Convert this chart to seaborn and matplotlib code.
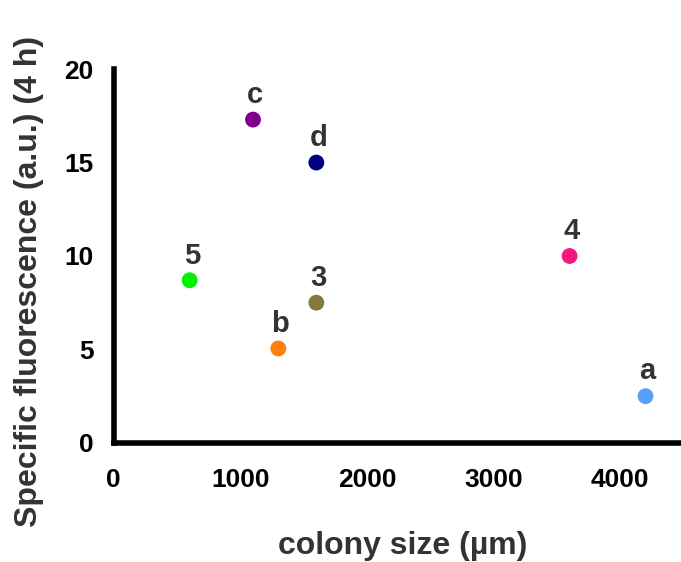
import matplotlib
matplotlib.use("Agg")
import matplotlib.pyplot as plt
import seaborn as sns
import pandas as pd

labels = ["5", "c", "b", "3", "d", "4", "a"]
colony_size = [600, 1100, 1300, 1600, 1600, 3600, 4200]
fluorescence = [8.7, 17.3, 5.05, 7.5, 15.0, 10.0, 2.5]
colors = ["#00F000", "#800090", "#FF7F0E", "#857A3C", "#000080", "#F5167E", "#55A0FA"]
x_ticks = [0, 1000, 2000, 3000, 4000]
y_ticks = [0, 5, 10, 15, 20]

df = pd.DataFrame({"label": labels, "x": colony_size, "y": fluorescence})

sns.set_style("white")
plt.rcParams["font.family"] = ["Liberation Sans", "DejaVu Sans"]

fig = plt.figure(figsize=(6.81, 5.62), dpi=100)
ax = fig.add_axes([0.167, 0.212, 0.833, 0.665])

sns.scatterplot(data=df, x="x", y="y", hue="label", palette=dict(zip(labels, colors)),
                s=130, edgecolor="none", legend=False, ax=ax, clip_on=False, zorder=3)

for lab, xv, yv in zip(labels, colony_size, fluorescence):
    ax.annotate(lab, (xv, yv), xytext=(1.5, 12), textcoords="offset points",
                ha="center", va="baseline", fontsize=21, fontweight="bold", color="#333333")

ax.set_xlim(0, 4480)
ax.set_ylim(0, 20)
ax.set_xticks(x_ticks)
ax.set_yticks(y_ticks)
for s in ["top", "right"]:
    ax.spines[s].set_visible(False)
for s in ["left", "bottom"]:
    ax.spines[s].set_linewidth(4)
    ax.spines[s].set_color("black")
ax.tick_params(axis="both", direction="out", length=12.5, width=3.5, colors="black",
               labelsize=19)
ax.tick_params(axis="y", pad=2)
ax.tick_params(axis="x", pad=5.5)
for t in ax.get_xticklabels() + ax.get_yticklabels():
    t.set_fontweight("bold")

ax.set_xlabel("colony size (µm)", fontsize=23, fontweight="bold", color="#333333")
ax.set_ylabel("Specific fluorescence (a.u.) (4 h)", fontsize=23, fontweight="bold",
              color="#333333")
ax.xaxis.set_label_coords(0.51, -0.235)
ax.yaxis.label.set_va("center")
ax.yaxis.set_label_coords(-0.150, 0.433)

fig.savefig("out.png", dpi=100)
